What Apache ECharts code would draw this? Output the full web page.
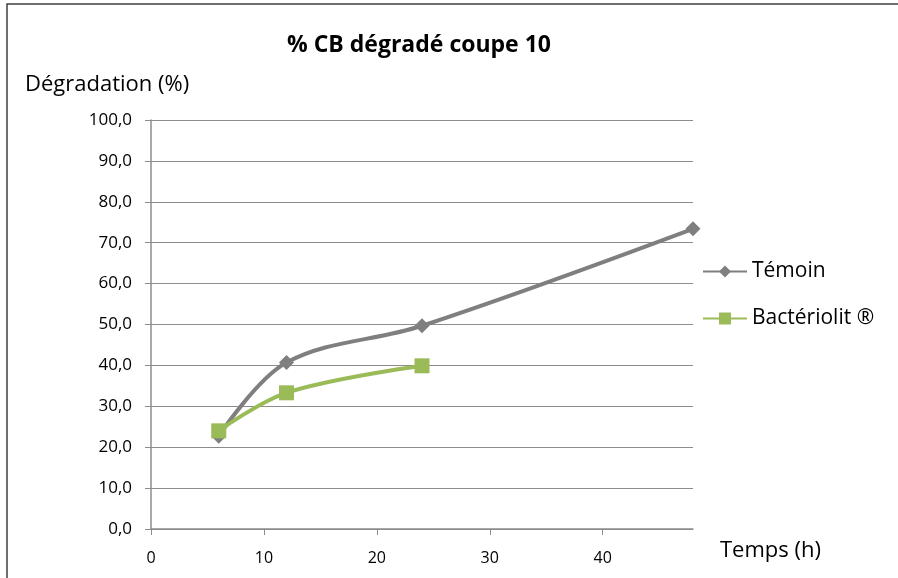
<!DOCTYPE html>
<html>
<head>
<meta charset="utf-8">
<script src="https://cdn.jsdelivr.net/npm/echarts@6/dist/echarts.min.js"></script>
<style>
  html, body { margin: 0; padding: 0; background: #fff; }
  #c1 { width: 898px; height: 578px; }
</style>
</head>
<body>
<div id="c1"></div>
<script>
// values
var temoinX = [6, 12, 24, 48];
var temoinY = [22.7, 40.7, 49.7, 73.4];
var bactX = [6, 12, 24];
var bactY = [24.0, 33.3, 39.9];
var seriesNames = ['Témoin', 'Bactériolit ®'];

function pairs(xs, ys) {
  var out = [];
  for (var i = 0; i < xs.length; i++) out.push([xs[i], ys[i]]);
  return out;
}

var font = '"Open Sans", "DejaVu Sans", sans-serif';
var chartDom = document.getElementById('c1');
var myChart = echarts.init(chartDom);
var option = {
  animation: false,
  textStyle: { fontFamily: font },
  graphic: [{
    type: 'polyline',
    shape: { points: [[7, 578], [7, 4], [898, 4]] },
    style: { stroke: '#404040', lineWidth: 1.5, fill: null }
  }],
  title: {
    text: '% CB dégradé coupe 10',
    left: 414,
    top: 29,
    textAlign: 'center',
    textStyle: { fontSize: 23, fontWeight: 'bold', color: '#000', fontFamily: font }
  },
  legend: {
    orient: 'vertical',
    left: 697,
    top: 256,
    itemGap: 26,
    itemWidth: 44,
    itemHeight: 15,
    textStyle: { fontSize: 21, color: '#000', fontFamily: font },
    data: seriesNames
  },
  grid: { left: 151, right: 205, top: 120, bottom: 49 },
  xAxis: {
    type: 'value',
    min: 0,
    max: 48,
    interval: 10,
    name: 'Temps (h)',
    nameLocation: 'end',
    nameGap: 0,
    nameTextStyle: { fontSize: 22, color: '#000', align: 'left', verticalAlign: 'top', padding: [11, 0, 0, 27] },
    axisLine: { lineStyle: { color: '#8c8c8c', width: 1.5 } },
    axisTick: { show: true, length: 6, lineStyle: { color: '#8c8c8c' } },
    axisLabel: { fontSize: 16, color: '#000', margin: 21, showMaxLabel: false },
    splitLine: { show: false }
  },
  yAxis: {
    type: 'value',
    min: 0,
    max: 100,
    interval: 10,
    name: 'Dégradation (%)',
    nameLocation: 'end',
    nameGap: 24,
    nameTextStyle: { fontSize: 22, color: '#000', align: 'left', padding: [0, 0, 0, -126] },
    axisLine: { show: true, lineStyle: { color: '#8c8c8c', width: 1.5 } },
    axisTick: { show: true, length: 6, lineStyle: { color: '#8c8c8c' } },
    axisLabel: {
      fontSize: 17, color: '#000', margin: 19,
      formatter: function (v) { return v.toFixed(1).replace('.', ','); }
    },
    splitLine: { show: true, lineStyle: { color: '#8c8c8c', width: 1.2 } }
  },
  series: [
    {
      name: seriesNames[0],
      type: 'line',
      smooth: 0.35,
      symbol: 'diamond',
      symbolSize: 15,
      data: pairs(temoinX, temoinY),
      lineStyle: { color: '#7f7f7f', width: 4 },
      itemStyle: { color: '#7f7f7f' }
    },
    {
      name: seriesNames[1],
      type: 'line',
      smooth: 0.35,
      symbol: 'rect',
      symbolSize: 15,
      data: pairs(bactX, bactY),
      lineStyle: { color: '#9bbb59', width: 4 },
      itemStyle: { color: '#9bbb59' }
    }
  ]
};
myChart.setOption(option);
</script>
</body>
</html>
